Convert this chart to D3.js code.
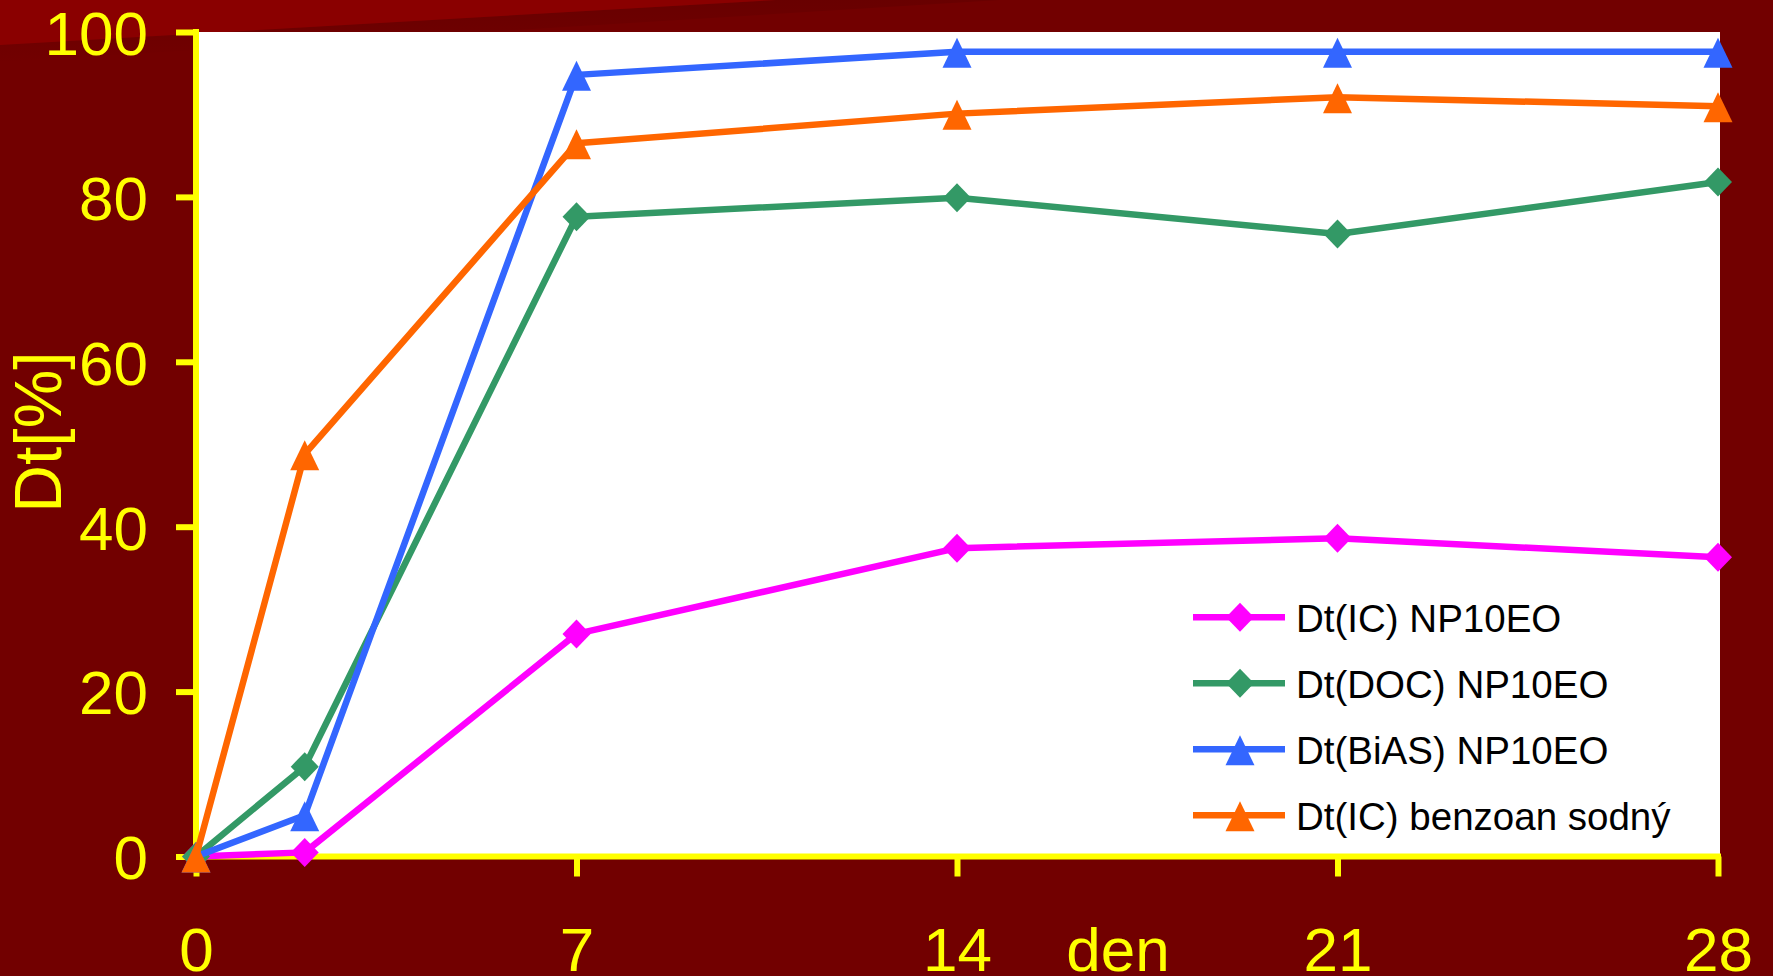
<!DOCTYPE html>
<html>
<head>
<meta charset="utf-8">
<script src="https://cdn.jsdelivr.net/npm/d3@7"></script>
<style>
  html, body { margin: 0; padding: 0; background: #720000; overflow: hidden; }
  svg { display: block; }
  text { font-family: "Liberation Sans", Arial, sans-serif; }
</style>
</head>
<body>
<svg id="chart" width="1773" height="976"></svg>
<script>
// Days of sampling
const days = [0, 2, 7, 14, 21, 28];
const xTicks = [0, 7, 14, 21, 28];
const yTicks = [0, 20, 40, 60, 80, 100];

// Degradation degree Dt [%] per series
const icNP10EO   = [0, 0.5, 27.0, 37.4, 38.6, 36.3];
const docNP10EO  = [0, 10.9, 77.6, 79.9, 75.5, 81.8];
const biasNP10EO = [0, 5.0, 94.8, 97.6, 97.6, 97.6];
const icBenzoan  = [0, 48.8, 86.5, 90.1, 92.1, 91.0];

const seriesNames = ["Dt(IC) NP10EO", "Dt(DOC) NP10EO", "Dt(BiAS) NP10EO", "Dt(IC) benzoan sodný"];
const seriesColors = ["#ff00ff", "#339966", "#3366ff", "#ff6600"];
const seriesShapes = ["diamond", "diamond", "triangle", "triangle"];
const seriesValues = [icNP10EO, docNP10EO, biasNP10EO, icBenzoan];

const svg = d3.select("#chart");
const W = 1773, H = 976;

// Background with slanted lighter band at the top-left
svg.append("rect").attr("width", W).attr("height", H).attr("fill", "#720000");
const defs = svg.append("defs");
const shade = defs.append("linearGradient").attr("id", "shade")
  .attr("x1", 0).attr("y1", 0).attr("x2", 0).attr("y2", 1);
shade.append("stop").attr("offset", "0%").attr("stop-color", "#660000");
shade.append("stop").attr("offset", "100%").attr("stop-color", "#720000");
svg.append("path").attr("d", "M0,45 L776,0 L1000,0 L0,62 Z").attr("fill", "url(#shade)").attr("opacity", 0.8);
svg.append("path").attr("d", "M0,0 L776,0 L0,45 Z").attr("fill", "#8a0000");

const x = d3.scaleLinear().domain([0, 28]).range([196, 1718]);
const y = d3.scaleLinear().domain([0, 100]).range([856.5, 32]);

// Plot area
svg.append("rect")
  .attr("x", x(0) + 3).attr("y", y(100))
  .attr("width", x(28) - x(0) - 1).attr("height", y(0) - y(100))
  .attr("fill", "#ffffff");

const yellow = "#ffff00";

// Y axis
const yAxis = svg.append("g")
  .attr("transform", `translate(${x(0)},0)`)
  .call(d3.axisLeft(y).tickValues(yTicks).tickSize(20).tickSizeOuter(0).tickPadding(28).tickFormat(d3.format("d")));
yAxis.select(".domain").attr("stroke", yellow).attr("stroke-width", 6)
  .attr("d", `M0,${y(100) - 3}V${y(0) + 3}`);
yAxis.selectAll(".tick line").attr("stroke", yellow).attr("stroke-width", 6);
yAxis.selectAll(".tick text").attr("fill", yellow).attr("font-size", 62)
  .attr("font-family", "Liberation Sans, Arial, sans-serif").attr("dy", "0.36em");

// X axis
const xAxis = svg.append("g")
  .attr("transform", `translate(0,${y(0)})`)
  .call(d3.axisBottom(x).tickValues(xTicks).tickSize(20).tickSizeOuter(0).tickFormat(d3.format("d")));
xAxis.select(".domain").attr("stroke", yellow).attr("stroke-width", 6)
  .attr("d", `M${x(0) - 3},0H${x(28) + 3}`);
xAxis.selectAll(".tick line").attr("stroke", yellow).attr("stroke-width", 6);
xAxis.selectAll(".tick text").attr("fill", yellow).attr("font-size", 62)
  .attr("font-family", "Liberation Sans, Arial, sans-serif")
  .attr("y", 971 - y(0)).attr("dy", 0);

// Axis titles
svg.append("text").attr("x", 1118).attr("y", 971)
  .attr("text-anchor", "middle").attr("font-size", 62).attr("fill", yellow).text("den");
svg.append("text").attr("transform", "translate(61,432) rotate(-90)")
  .attr("text-anchor", "middle").attr("font-size", 66).attr("fill", yellow).text("Dt[%]");

// Marker shapes
function markerPath(shape) {
  if (shape === "diamond") return "M0,-14.5 L14,0 L0,14.5 L-14,0 Z";
  return "M0,-14 L14.5,16 L-14.5,16 Z";
}

const line = d3.line().x(d => x(d[0])).y(d => y(d[1]));

seriesValues.forEach((vals, i) => {
  const pts = days.map((d, j) => [d, vals[j]]);
  const g = svg.append("g");
  g.append("path").datum(pts).attr("d", line)
    .attr("fill", "none").attr("stroke", seriesColors[i])
    .attr("stroke-width", 6.5).attr("stroke-linejoin", "round");
  g.selectAll("path.m").data(pts).enter().append("path").attr("class", "m")
    .attr("transform", d => `translate(${x(d[0])},${y(d[1])})`)
    .attr("d", markerPath(seriesShapes[i]))
    .attr("fill", seriesColors[i]);
});

// Legend
const legend = svg.append("g");
seriesNames.forEach((name, i) => {
  const cy = 617.3 + i * 66;
  legend.append("line").attr("x1", 1193).attr("x2", 1285).attr("y1", cy).attr("y2", cy)
    .attr("stroke", seriesColors[i]).attr("stroke-width", 6.5);
  legend.append("path").attr("transform", `translate(1240,${cy})`)
    .attr("d", markerPath(seriesShapes[i])).attr("fill", seriesColors[i]);
  legend.append("text").attr("x", 1296).attr("y", cy + 14.4)
    .attr("font-size", 38.5).attr("fill", "#000000").text(name);
});
</script>
</body>
</html>
